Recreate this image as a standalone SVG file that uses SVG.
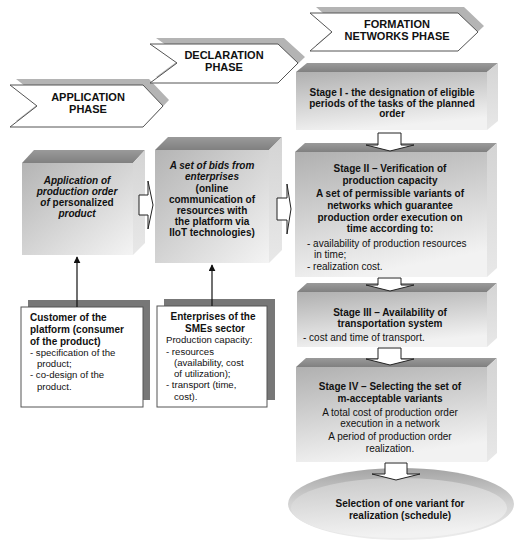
<svg xmlns="http://www.w3.org/2000/svg" width="520" height="550" viewBox="0 0 520 550">
<defs>
<linearGradient id="gFront" x1="0" y1="0" x2="1" y2="1">
<stop offset="0" stop-color="#b4b4b4"/><stop offset="1" stop-color="#f4f4f4"/>
</linearGradient>
<linearGradient id="gFrontV" x1="0" y1="0" x2="0.3" y2="1">
<stop offset="0" stop-color="#b0b0b0"/><stop offset="1" stop-color="#f2f2f2"/>
</linearGradient>
<linearGradient id="gTop" x1="0" y1="0" x2="0" y2="1">
<stop offset="0" stop-color="#9a9a9a"/><stop offset="1" stop-color="#808080"/>
</linearGradient>
<linearGradient id="gSide" x1="0" y1="0" x2="0" y2="1">
<stop offset="0" stop-color="#d4d4d4"/><stop offset="1" stop-color="#e8e8e8"/>
</linearGradient>
<linearGradient id="gEll" x1="0" y1="0" x2="0" y2="1">
<stop offset="0" stop-color="#a4a4a4"/><stop offset="0.5" stop-color="#d4d4d4"/><stop offset="1" stop-color="#ededed"/>
</linearGradient>
<linearGradient id="gEllIn" x1="0" y1="0" x2="0.2" y2="1">
<stop offset="0" stop-color="#c8c8c8"/><stop offset="1" stop-color="#f2f2f2"/>
</linearGradient>
<marker id="ah" viewBox="0 0 10 10" refX="9" refY="5" markerWidth="7" markerHeight="7" orient="auto" markerUnits="userSpaceOnUse">
<path d="M0,0 L10,5 L0,10 z" fill="#111"/>
</marker>
</defs>
<style>
.chev{fill:#fff;stroke:#555;stroke-width:1}
.chsh{fill:#b4b4b4}
.top{fill:url(#gTop)}
.side{fill:url(#gSide)}
.front{fill:url(#gFront)}
.frontv{fill:url(#gFrontV)}
.ph{font-family:"Liberation Sans",Arial,sans-serif;font-size:11px;font-weight:bold;fill:#111;text-anchor:middle}
.b{font-family:"Liberation Sans",Arial,sans-serif;font-size:10px;font-weight:bold;fill:#111}
.r{font-family:"Liberation Sans",Arial,sans-serif;font-size:9.6px;fill:#111}
.r10{font-family:"Liberation Sans",Arial,sans-serif;font-size:10px;fill:#111}
.c{text-anchor:middle}
.i{font-style:italic}
.barrow{fill:#fff;stroke:#222;stroke-width:1}
.line{stroke:#111;stroke-width:1.2;fill:none}
.wbox{fill:#fff;stroke:#555;stroke-width:1}
.shadow{fill:#777}
</style>

<g id="phase-application">
<polygon class="chsh" points="16,79 149,79 169,100 149,121 16,121 43,100"/>
<polygon class="chev" points="10,85 143,85 163,106 143,127 10,127 37,106"/>
<text class="ph" x="88" y="101">APPLICATION</text>
<text class="ph" x="88" y="113">PHASE</text>
</g>

<g id="phase-declaration">
<polygon class="chsh" points="156,38 284,38 305,57 284,77 156,77 183,57"/>
<polygon class="chev" points="150,44 278,44 298,63 278,83 150,83 177,63"/>
<text class="ph" x="224" y="59">DECLARATION</text>
<text class="ph" x="224" y="71">PHASE</text>
</g>

<g id="phase-formation">
<polygon class="chsh" points="316,7 464,7 484,26 464,45 316,45 338,26"/>
<polygon class="chev" points="310,13 458,13 478,32 458,51 310,51 332,32"/>
<text class="ph" x="397" y="28">FORMATION</text>
<text class="ph" x="397" y="40">NETWORKS PHASE</text>
</g>

<g id="box-application">
<polygon class="top" points="22,163 34,150 145,150 133,163"/>
<polygon class="side" points="133,163 145,150 145,243 133,255"/>
<rect class="front" x="22" y="163" width="111" height="92"/>
<text class="b i c" x="77" y="184">Application of</text>
<text class="b i c" x="77" y="195">production order</text>
<text class="b i c" x="77" y="206"><tspan>of </tspan><tspan font-style="normal">personalized</tspan></text>
<text class="b i c" x="77" y="217">product</text>
</g>

<g id="box-declaration">
<polygon class="top" points="155,150 168,137 282,137 269,150"/>
<polygon class="side" points="269,150 282,137 282,250 269,263"/>
<rect class="front" x="155" y="150" width="114" height="113"/>
<text class="b i c" x="212" y="169">A set of bids from</text>
<text class="b i c" x="212" y="180">enterprises</text>
<text class="b c" x="212" y="192">(online</text>
<text class="b c" x="212" y="203">communication of</text>
<text class="b c" x="212" y="214">resources with</text>
<text class="b c" x="212" y="225">the platform via</text>
<text class="b c" x="212" y="236">IIoT technologies)</text>
</g>

<g id="stage-1">
<polygon class="top" points="296,72 307,63 498,63 487,72"/>
<polygon class="side" points="487,72 498,63 498,121 487,130"/>
<rect class="frontv" x="296" y="72" width="191" height="58"/>
<text class="b c" x="392" y="96">Stage I - the designation of eligible</text>
<text class="b c" x="392" y="107">periods of the tasks of the planned</text>
<text class="b c" x="392" y="117">order</text>
</g>

<g id="stage-2">
<polygon class="top" points="295,152 305,143 497,143 487,152"/>
<polygon class="side" points="487,152 497,143 497,268 487,277"/>
<rect class="frontv" x="295" y="152" width="192" height="125"/>
<text class="b c" x="390" y="172">Stage II – Verification of</text>
<text class="b c" x="390" y="184">production capacity</text>
<text class="b c" x="390" y="197">A set of  permissible variants of</text>
<text class="b c" x="390" y="209">networks which guarantee</text>
<text class="b c" x="390" y="221">production order execution on</text>
<text class="b c" x="390" y="232">time according to:</text>
<text class="r10" x="307" y="247">- availability of production resources</text>
<text class="r10" x="314" y="258">in time;</text>
<text class="r10" x="307" y="270">- realization cost.</text>
</g>

<g id="stage-3">
<polygon class="top" points="297,292 307,283 497,283 487,292"/>
<polygon class="side" points="487,292 497,283 497,338 487,347"/>
<rect class="frontv" x="297" y="292" width="190" height="55"/>
<text class="b c" x="390" y="316">Stage III – Availability of</text>
<text class="b c" x="390" y="327">transportation system</text>
<text class="r10" x="303" y="341">- cost and time of transport.</text>
</g>

<g id="stage-4">
<polygon class="top" points="296,367 306,358 497,358 487,367"/>
<polygon class="side" points="487,367 497,358 497,453 487,462"/>
<rect class="frontv" x="296" y="367" width="191" height="95"/>
<text class="b c" x="390" y="390">Stage IV – Selecting the set of</text>
<text class="b c" x="390" y="402">m-acceptable variants</text>
<text class="r10 c" x="390" y="416">A total cost of production order</text>
<text class="r10 c" x="390" y="427">execution in a network</text>
<text class="r10 c" x="390" y="440">A period of production order</text>
<text class="r10 c" x="390" y="452">realization.</text>
</g>

<g id="selection">
<ellipse cx="401" cy="504" rx="113" ry="36" fill="url(#gEll)"/>
<ellipse cx="399" cy="508" rx="108" ry="30" fill="url(#gEllIn)"/>
<text class="b c" x="400" y="507">Selection of one variant for</text>
<text class="b c" x="400" y="519">realization (schedule)</text>
</g>

<g id="customer">
<rect class="shadow" x="28" y="300" width="122" height="100"/>
<rect class="wbox" x="21" y="307" width="122" height="100"/>
<text class="b" x="30" y="321">Customer of the</text>
<text class="b" x="30" y="333">platform (consumer</text>
<text class="b" x="30" y="345">of the product)</text>
<text class="r" x="30" y="356">- specification of the</text>
<text class="r" x="37" y="367">product;</text>
<text class="r" x="30" y="378">- co-design of the</text>
<text class="r" x="37" y="390">product.</text>
</g>

<g id="enterprises">
<rect class="shadow" x="164" y="299" width="111" height="101"/>
<rect class="wbox" x="157" y="306" width="110" height="101"/>
<text class="b c" x="213" y="320">Enterprises of the</text>
<text class="b c" x="215" y="332">SMEs sector</text>
<text class="r" x="166" y="343">Production capacity:</text>
<text class="r" x="166" y="355">- resources</text>
<text class="r" x="174" y="366">(availability, cost</text>
<text class="r" x="174" y="377">of utilization);</text>
<text class="r" x="166" y="388">- transport (time,</text>
<text class="r" x="174" y="400">cost).</text>
</g>

<g id="connectors">
<line class="line" x1="77" y1="307" x2="77" y2="257" marker-end="url(#ah)"/>
<line class="line" x1="212" y1="306" x2="212" y2="265" marker-end="url(#ah)"/>
<polygon class="barrow" points="139,195 148,195 148,181 153,205 148,229 148,215 139,215"/>
<polygon class="barrow" points="277,198 287,198 287,184 291,209 287,234 287,220 277,220"/>
<polygon class="barrow" points="378,133 401,133 401,145 414,145 390,151 366,145 378,145"/>
<polygon class="barrow" points="378,278 401,278 401,285 414,285 390,291 366,285 378,285"/>
<polygon class="barrow" points="378,348 401,348 401,359 414,359 390,365 366,359 378,359"/>
<polygon class="barrow" points="385,463 407,463 407,474 420,474 396,480 372,474 385,474"/>
</g>
</svg>
